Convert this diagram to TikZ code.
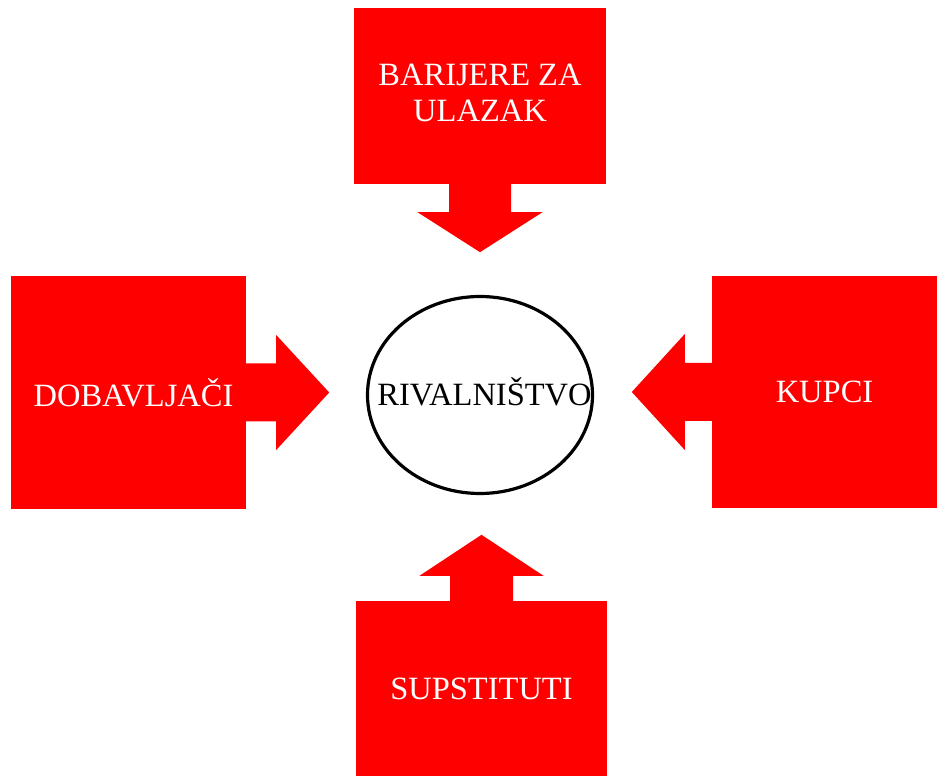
\documentclass[tikz,border=0pt]{standalone}
\usepackage{fontspec}
\setmainfont{Liberation Serif}

\tikzset{
  force/.style={fill=red, text=white, inner sep=0pt, align=center,
    font=\fontsize{32.5}{36}\selectfont},
}

\begin{document}
\begin{tikzpicture}[x=1pt, y=1pt]
  \useasboundingbox (0,0) rectangle (939,776);
  \node[force, minimum width=252pt, minimum height=176pt] (barijere) at (480,680) {BARIJERE ZA\\ULAZAK\\[-30pt]};
  \node[force, minimum width=235pt, minimum height=233pt] (dobavljaci) at (128.5,383.5) {\hspace*{10pt}DOBAVLJAČI};
  \node[force, minimum width=225pt, minimum height=232pt] (kupci) at (824.5,384) {KUPCI};
  \node[force, minimum width=251pt, minimum height=175pt] (supstituti) at (481.5,87.5) {SUPSTITUTI};
  \node[font=\fontsize{32.5}{36}\selectfont, text height=21.5pt, text depth=0pt] (rival) at (484.5,381) {RIVALNIŠTVO};
  \coordinate (ring) at (480,381);
  \draw[line width=3.2pt] (ring) ellipse [x radius=112.5, y radius=98.5];
  % block arrows from each force towards the rivalry
  \foreach \from/\ang/\s/\l/\w/\h in {barijere.south/-90/28/68/31/62.5,
      dobavljaci.east/0/30/83/29/57.5, kupci.west/180/27/80/29/58,
      supstituti.north/90/25/66/31.5/62} {
    \fill[red, shift={(\from)}, rotate=\ang] (-1,-\w) -- (\s,-\w) -- (\s,-\h) -- (\l,0)
      -- (\s,\h) -- (\s,\w) -- (-1,\w) -- cycle;
  }
\end{tikzpicture}
\end{document}
